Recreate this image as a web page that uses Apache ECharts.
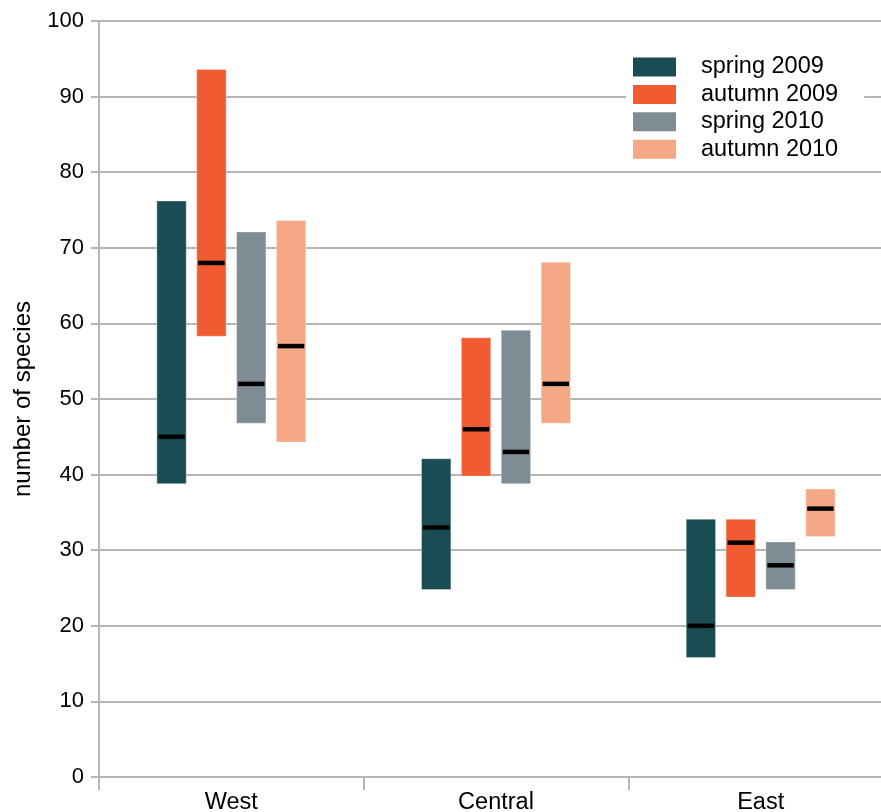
<!DOCTYPE html>
<html>
<head>
<meta charset="utf-8">
<script src="https://cdn.jsdelivr.net/npm/echarts@6/dist/echarts.min.js"></script>
<style>
  html, body { margin: 0; padding: 0; background: #fff; }
  #chart { width: 881px; height: 812px; }
</style>
</head>
<body>
<div id="chart"></div>
<script>
// regions on the x axis
var categories = ['West', 'Central', 'East'];
var seasons = ['spring 2009', 'autumn 2009', 'spring 2010', 'autumn 2010'];
var colors = ['#194d53', '#f15b32', '#7e8c93', '#f4a886'];

// low / high / median number of species per region
var spring2009Low = [38.8, 24.8, 15.8];
var spring2009High = [76.2, 42.1, 34.1];
var spring2009Median = [45, 33, 20];

var autumn2009Low = [58.3, 39.8, 23.8];
var autumn2009High = [93.6, 58.1, 34.1];
var autumn2009Median = [68, 46, 31];

var spring2010Low = [46.8, 38.8, 24.8];
var spring2010High = [72.1, 59.1, 31.1];
var spring2010Median = [52, 43, 28];

var autumn2010Low = [44.3, 46.8, 31.8];
var autumn2010High = [73.6, 68.1, 38.1];
var autumn2010Median = [57, 52, 35.5];

var yTicks = { min: 0, max: 100, interval: 10 };

var ranges = [
  [spring2009Low, spring2009High, spring2009Median],
  [autumn2009Low, autumn2009High, autumn2009Median],
  [spring2010Low, spring2010High, spring2010Median],
  [autumn2010Low, autumn2010High, autumn2010Median]
];

var FONT = '"Liberation Sans", Helvetica, Arial, sans-serif';
var GREY = '#b5b5b5';

function makeSeries(k) {
  var r = ranges[k];
  var data = categories.map(function (c, i) {
    return [i, r[0][i], r[1][i], r[2][i]];
  });
  return {
    name: seasons[k],
    type: 'custom',
    itemStyle: { color: colors[k] },
    encode: { x: 0, y: [1, 2, 3] },
    data: data,
    renderItem: function (params, api) {
      var ci = api.value(0);
      var lo = api.coord([ci, api.value(1)]);
      var hi = api.coord([ci, api.value(2)]);
      var md = api.coord([ci, api.value(3)]);
      var band = api.size([1, 0])[0];
      var w = band * 0.111;
      var cx = lo[0] + (k - 1.5) * band * 0.1506;
      return {
        type: 'group',
        children: [
          {
            type: 'rect',
            shape: { x: cx - w / 2, y: hi[1], width: w, height: lo[1] - hi[1] },
            style: { fill: colors[k], stroke: 'rgba(255,255,255,0.35)', lineWidth: 1 }
          },
          {
            type: 'rect',
            shape: { x: cx - w / 2 + 1.5, y: md[1] - 2.25, width: w - 3, height: 4.5 },
            style: { fill: '#000' }
          }
        ]
      };
    }
  };
}

var chart = echarts.init(document.getElementById('chart'));
chart.setOption({
  animation: false,
  backgroundColor: '#fff',
  textStyle: { fontFamily: FONT },
  grid: { left: 99, top: 21, bottom: 35, right: -12, containLabel: false, outerBoundsMode: 'none' },
  legend: {
    orient: 'vertical',
    left: 626,
    top: 50,
    itemWidth: 43,
    itemHeight: 19,
    itemGap: 3.4,
    icon: 'rect',
    backgroundColor: '#fff',
    padding: [5, 26, 5, 7],
    textStyle: { fontSize: 23.5, color: '#000', fontFamily: FONT, padding: [0, 0, 0, 20] },
    data: seasons
  },
  xAxis: {
    type: 'category',
    data: categories,
    axisLine: { show: true, lineStyle: { color: GREY, width: 2 } },
    axisTick: { show: true, interval: 0, length: 13, lineStyle: { color: GREY, width: 2 } },
    axisLabel: { fontSize: 23.5, color: '#000', fontFamily: FONT, margin: 14 }
  },
  yAxis: {
    type: 'value',
    min: yTicks.min,
    max: yTicks.max,
    interval: yTicks.interval,
    name: 'number of species',
    nameLocation: 'middle',
    nameGap: 64,
    nameTextStyle: { fontSize: 24, color: '#000', fontFamily: FONT },
    axisLine: { show: true, lineStyle: { color: GREY, width: 2 } },
    axisTick: { show: true, length: 8, lineStyle: { color: GREY, width: 2 } },
    axisLabel: { fontSize: 22, color: '#000', fontFamily: FONT, margin: 15 },
    splitLine: { show: true, lineStyle: { color: GREY, width: 2 } }
  },
  series: seasons.map(function (s, k) { return makeSeries(k); })
});
</script>
</body>
</html>
